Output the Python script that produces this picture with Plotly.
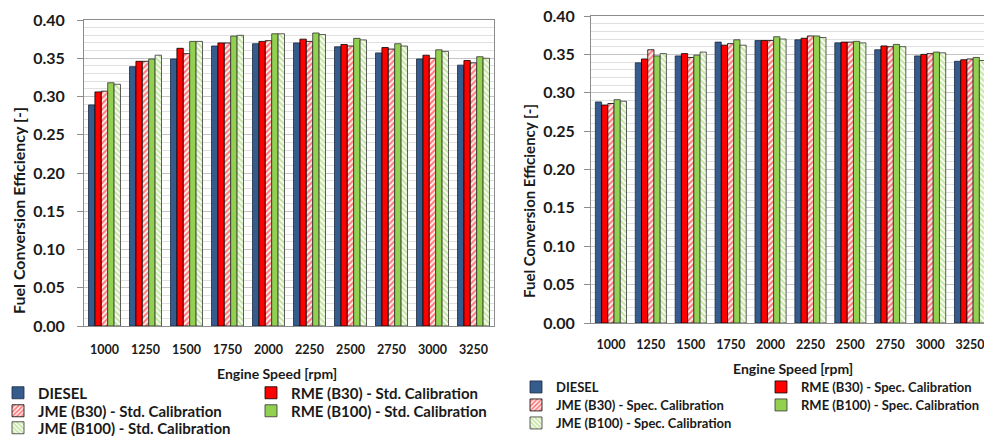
import plotly.graph_objects as go

speeds = ["1000", "1250", "1500", "1750", "2000", "2250", "2500", "2750", "3000", "3250"]

# Left chart: Std. Calibration
std_diesel   = [0.289, 0.339, 0.349, 0.366, 0.369, 0.370, 0.365, 0.357, 0.349, 0.341]
std_rme_b30  = [0.306, 0.346, 0.363, 0.370, 0.372, 0.375, 0.368, 0.364, 0.354, 0.347]
std_jme_b30  = [0.307, 0.346, 0.356, 0.370, 0.373, 0.372, 0.366, 0.362, 0.350, 0.344]
std_rme_b100 = [0.318, 0.349, 0.372, 0.379, 0.382, 0.383, 0.376, 0.369, 0.361, 0.352]
std_jme_b100 = [0.316, 0.354, 0.372, 0.380, 0.382, 0.381, 0.374, 0.366, 0.359, 0.350]

# Right chart: Spec. Calibration
spc_diesel   = [0.288, 0.339, 0.348, 0.366, 0.368, 0.369, 0.365, 0.356, 0.348, 0.341]
spc_rme_b30  = [0.284, 0.344, 0.351, 0.362, 0.368, 0.371, 0.366, 0.361, 0.350, 0.343]
spc_jme_b30  = [0.286, 0.356, 0.346, 0.364, 0.368, 0.374, 0.366, 0.360, 0.351, 0.344]
spc_rme_b100 = [0.291, 0.348, 0.349, 0.369, 0.373, 0.374, 0.367, 0.363, 0.353, 0.346]
spc_jme_b100 = [0.289, 0.351, 0.353, 0.362, 0.370, 0.372, 0.365, 0.360, 0.352, 0.342]

names_std = ["DIESEL", "RME (B30) - Std. Calibration", "JME (B30) - Std. Calibration",
             "RME (B100) - Std. Calibration", "JME (B100) - Std. Calibration"]
names_spc = ["DIESEL", "RME (B30) - Spec. Calibration", "JME (B30) - Spec. Calibration",
             "RME (B100) - Spec. Calibration", "JME (B100) - Spec. Calibration"]

# the page body has an 8 px margin, so the figure is sized to fit the 992x436 window
OFF = 8
W, H = 992 - OFF, 436 - OFF
BLUE = "#355C8C"
RED = "#FF0000"
GREEN = "#92D050"
FONT = "Lato"

styles = [
    dict(color=BLUE, line=dict(color="#1a2a40", width=0.8)),
    dict(color=RED, line=dict(color="#000000", width=0.8)),
    dict(color="white", line=dict(color="#000000", width=0.8),
         pattern=dict(shape="/", fgcolor=RED, bgcolor="white", size=4, solidity=0.6)),
    dict(color=GREEN, line=dict(color="#333333", width=0.8)),
    dict(color="white", line=dict(color="#333333", width=0.8),
         pattern=dict(shape="\\", fgcolor=GREEN, bgcolor="white", size=4, solidity=0.6)),
]

fig = go.Figure()

def add_chart(series, names, xa, ya, legends):
    for i, (vals, nm) in enumerate(zip(series, names)):
        fig.add_trace(go.Bar(
            x=speeds, y=vals, name=nm, marker=styles[i],
            xaxis=xa, yaxis=ya, legend=legends[i], hoverinfo="y+name",
        ))

add_chart([std_diesel, std_rme_b30, std_jme_b30, std_rme_b100, std_jme_b100], names_std,
          "x", "y", ["legend", "legend2", "legend3", "legend4", "legend5"])
add_chart([spc_diesel, spc_rme_b30, spc_jme_b30, spc_rme_b100, spc_jme_b100], names_spc,
          "x2", "y2", ["legend6", "legend7", "legend8", "legend9", "legend10"])

def px_x(p):  # window pixel -> paper fraction
    return (p - OFF) / W

def px_y(p):
    return 1 - (p - OFF) / H

yaxis_common = dict(
    range=[0, 0.40], dtick=0.05, tickformat=".2f",
    showgrid=True, gridcolor="#c4c4c4", gridwidth=1,
    minor=dict(dtick=0.01, showgrid=True, gridcolor="#e0e0e0", gridwidth=1, ticks=""),
    showline=True, linecolor="#8c8c8c", linewidth=1, mirror=True,
    ticks="outside", ticklen=6, tickcolor="#8c8c8c",
    tickfont=dict(family=FONT, size=16, color="#1a1a1a", weight="bold"),
    ticklabeloverflow="allow",
    zeroline=False, fixedrange=True,
)
xaxis_common = dict(
    showline=True, linecolor="#8c8c8c", linewidth=1, mirror=True,
    ticks="", showgrid=False,
    tickfont=dict(family=FONT, size=12.5, color="#1a1a1a", weight="bold"),
    ticklabeloverflow="allow",
    fixedrange=True,
)

lf_left = dict(family=FONT, size=15, color="#1a1a1a", weight="bold")
lf_right = dict(family=FONT, size=13, color="#1a1a1a", weight="bold")

def leg(text_x, row_y, font):
    # entry text sits 40 px right of the legend's left edge
    left = text_x + 3 - 40
    return dict(x=px_x(left), y=px_y(row_y), xanchor="left", yanchor="middle",
                orientation="h", bgcolor="rgba(0,0,0,0)", borderwidth=0, font=font)

fig.update_layout(
    width=W, height=H,
    margin=dict(l=0, r=0, t=0, b=0, autoexpand=False),
    paper_bgcolor="white", plot_bgcolor="white",
    barmode="group", bargap=0.22, bargroupgap=0,
    xaxis=dict(domain=[px_x(84), px_x(494)], anchor="y", ticklabelstandoff=12, **xaxis_common),
    yaxis=dict(domain=[px_y(326), px_y(20)], anchor="x", ticklabelstandoff=9, **yaxis_common),
    xaxis2=dict(domain=[px_x(591), px_x(990)], anchor="y2", ticklabelstandoff=10, **xaxis_common),
    yaxis2=dict(domain=[px_y(323), px_y(16)], anchor="x2", ticklabelstandoff=6, **yaxis_common),
    legend=leg(35, 393, lf_left),
    legend2=leg(288, 393, lf_left),
    legend3=leg(35, 411, lf_left),
    legend4=leg(288, 411, lf_left),
    legend5=leg(35, 428, lf_left),
    legend6=leg(553, 387, lf_right),
    legend7=leg(798, 387, lf_right),
    legend8=leg(553, 405, lf_right),
    legend9=leg(798, 405, lf_right),
    legend10=leg(553, 423, lf_right),
    showlegend=True,
)

ann_font = dict(family=FONT, size=14, color="#1a1a1a", weight="bold")
fig.add_annotation(text="Engine Speed [rpm]", x=px_x(277), y=px_y(373), xref="paper", yref="paper",
                   showarrow=False, font=ann_font, xanchor="center", yanchor="middle")
fig.add_annotation(text="Engine Speed [rpm]", x=px_x(793), y=px_y(368), xref="paper", yref="paper",
                   showarrow=False, font=ann_font, xanchor="center", yanchor="middle")
fig.add_annotation(text="Fuel Conversion Efficiency [-]", x=px_x(18), y=px_y(211), xref="paper",
                   yref="paper", showarrow=False, font=dict(ann_font, size=16), textangle=-90,
                   xanchor="center", yanchor="middle")
fig.add_annotation(text="Fuel Conversion Efficiency [-]", x=px_x(529), y=px_y(201), xref="paper",
                   yref="paper", showarrow=False, font=dict(ann_font, size=15), textangle=-90,
                   xanchor="center", yanchor="middle")

fig.write_html("out.html")
